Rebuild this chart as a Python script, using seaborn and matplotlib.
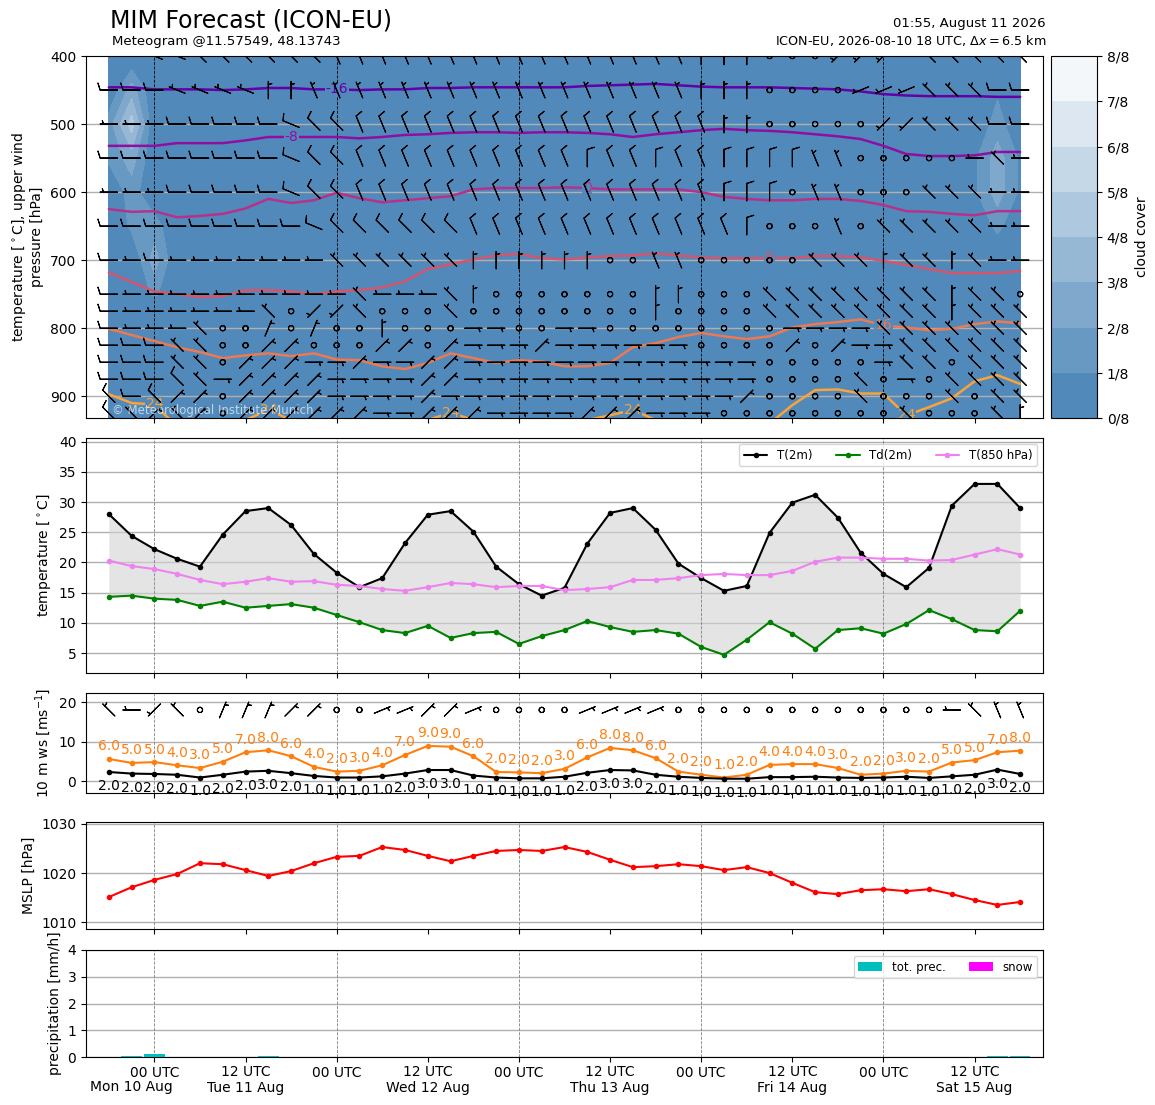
import re
import numpy as np
import matplotlib
matplotlib.use('Agg')
import matplotlib.pyplot as plt
import seaborn as sns

# forecast hours after 2026-08-09 18 UTC, 3-hourly
hours = np.arange(0, 121, 3)

# pressure levels of the upper wind barbs
levels = [400, 450, 500, 550, 600, 650, 700, 750, 775, 800, 825, 850, 875, 900, 925]

# wind barbs: compass direction + speed in kt, C = calm
wind_400 = ('W10 W10 WNW10 WNW10 NW10 NW10 NW10 NW10 NW10 NW10 '
            'NNW10 NNW10 NNW10 NNW10 NNW10 NNW10 NNW10 NNW10 NNW10 NNW10 '
            'NNW10 NNW10 NNW10 NNW10 NNW10 NNW5 N5 N5 N5 C '
            'C C SW5 SW5 SW5 W5 NW10 NW10 NW10 NW10 NW10').split()
wind_450 = ('W10 W10 W10 WNW5 WNW5 WNW5 WNW5 N5 N5 NNW5 '
            'NNW5 NNW5 NNW5 NNW5 NNW5 NNW5 NNW5 NNW5 NNW5 NNW5 '
            'NNW5 NNW5 NNW5 NNW5 NNW5 NNW5 N5 N5 N5 C '
            'C C C WSW5 WSW5 WSW5 NW5 NW5 NW5 W10 W10').split()
wind_500 = ('W5 W5 W5 W10 W10 W10 W10 W10 WNW10 NW10 '
            'NW10 NNW10 NNW10 NNW10 NNW10 NNW10 NNW10 NNW10 NNW10 NNW10 '
            'NNW10 NNW10 NNW10 NNW10 NNW10 NNW10 NNW10 N5 N5 C '
            'C C C C SW5 SW5 NW5 NW5 NW5 W10 W10').split()
wind_550 = ('W10 W10 W10 W10 W10 W10 W10 W10 WNW10 NW10 '
            'NW10 NNW10 NNW10 NNW10 NNW10 NNW10 NNW10 NNW10 NNW10 NNW10 '
            'NNW10 N10 NNW10 NNW10 N10 NNW10 NNW10 N10 N10 N10 '
            'N10 NNW5 NNW5 C C C C C W5 NW5 W5').split()
wind_600 = ('W5 W5 W5 W10 W10 W10 W10 W10 WNW10 NW10 '
            'NW10 NNW10 NNW10 NNW10 NNW10 NNW10 NNW10 NNW10 NNW10 NNW10 '
            'NNW10 NNW10 NNW10 NNW10 NNW10 NNW10 NNW10 N10 N10 N10 '
            'C NNW5 NNW5 C C C NW5 NW5 NW5 W5 W5').split()
wind_650 = ('W10 W10 W10 W10 W10 W10 W10 W10 W10 WNW10 '
            'NW10 NW10 NW10 NW10 NW10 NW10 NNW10 NNW10 NNW10 NNW10 '
            'NNW10 NNW10 NNW10 NNW10 NNW10 NNW10 NNW10 NNW10 N10 C '
            'C C NNW5 C NW5 NW5 NW5 NW5 NW5 W5 W5').split()
wind_700 = ('W10 W5 W10 W5 W5 W5 W5 W5 W5 W5 '
            'NW5 NW5 NW5 NW5 NW5 NW5 N5 N5 N5 N5 '
            'N5 N5 C C NNW5 NNW5 C C C C '
            'C NW5 NW5 NW5 N5 NW5 NW5 N5 NW5 W5 W5').split()
wind_750 = ('W10 W5 W5 W5 W5 W5 W5 W5 W5 W5 '
            'W5 NW5 W5 W5 W5 NW5 N5 C C C '
            'C C C C N5 N5 C C C NW5 '
            'NW5 NW5 NW5 NW5 NW5 NW5 NW5 N5 NW5 NW5 C').split()
wind_775 = ('W10 W5 W5 W5 W5 W5 W5 NW5 C SW5 '
            'SW5 NW5 C C C NW5 C C C C '
            'C C C C N5 C C C C NW5 '
            'NW5 NW5 NW5 NW5 NW5 NW5 NW5 N5 NW5 NW5 NW5').split()
wind_800 = ('W10 W5 W5 W5 NW5 C C NNE5 C NNE5 '
            'C C N5 C C C E5 E5 C C '
            'E5 E5 C C C C C C C C '
            'E5 E5 E5 E5 NW5 NW5 NW5 NW5 NW5 NW5 NW5').split()
wind_825 = ('W10 W10 W10 NW5 NW5 C C NE5 NE5 C '
            'C C NE5 NE5 C NE5 E5 E5 E5 NE5 '
            'E5 E5 E5 E5 E5 E5 C C C C '
            'NE5 C NE5 E5 E5 NW5 NW5 NW5 NW5 NW5 NW5').split()
wind_850 = ('W10 W10 W10 NW5 NW5 C NE5 NE5 NE5 E5 '
            'E5 NE5 E5 E5 NE5 NE5 E5 E5 E5 E5 '
            'E5 E5 E5 E5 E5 E5 E5 E5 E5 C '
            'C C C C E5 NW5 NW5 C NW5 NW5 NW5').split()
wind_875 = ('W10 W10 W10 NW10 NW5 E5 NE5 NE5 NE5 NE5 '
            'E5 E5 E5 E5 NE5 NE5 E5 E5 E5 E5 '
            'E5 E5 E5 E5 E5 E5 E5 E5 E5 C '
            'C C C NW5 C E5 C NW5 NW5 NW5 NW5').split()
wind_900 = ('NW10 W10 NW10 NE5 NE5 C NE5 NE5 NE5 NE5 '
            'E5 E5 E5 E5 NE5 E5 E5 E5 E5 E5 '
            'E5 E5 E5 E5 E5 E5 E5 E5 NE5 C '
            'C C C NW5 C C C NW5 C NW5 NW5').split()
wind_925 = ('NW10 NW5 NE5 NW5 NE5 C NE5 NE5 NE5 NE5 '
            'NE5 NE5 E5 E5 NE5 NE5 NE5 E5 E5 E5 '
            'E5 NE5 NE5 NE5 E5 E5 E5 C C C '
            'C C C C C NW5 C C C NW5 N5').split()
wind_10m = ('NW5 W5 SW5 NW5 C NNE5 NNE5 NNE5 NE5 NE5 '
            'C C ENE5 ENE5 NE5 NE5 ENE5 C C C '
            'C ENE5 ENE5 ENE5 ENE5 C C C C C '
            'C C C C C C C W5 NW5 NNW5 NNW5').split()

# cloud cover (octas): only the non-clear cells
cloud_p = [500, 550, 450, 500, 550, 600, 650, 650, 700, 750,
           550, 600, 450, 500, 550, 600, 650, 550, 600]
cloud_i = [0, 0, 1, 1, 1, 1, 1, 2, 2, 2,
           38, 38, 39, 39, 39, 39, 39, 40, 40]
cloud_v = [1.5, 1.2, 2.5, 4.5, 2.5, 1.5, 1.2, 1.5, 2.5, 1.2,
           0.8, 0.8, 0.8, 1.5, 2.5, 2.5, 1.3, 0.8, 0.8]

# isotherms: pressure [hPa] of each line at every time step
iso_m16 = [446, 446, 449, 449, 449, 450, 449, 447, 447, 449, 449, 450, 449, 449, 447, 447, 446, 446, 446, 446,
           446, 444, 443, 442, 441, 443, 445, 446, 446, 446, 447, 448, 449, 452, 456, 458, 459, 459, 459, 460, 460]
iso_m8 = [532, 532, 532, 528, 528, 528, 524, 519, 519, 519, 519, 521, 519, 516, 515, 513, 512, 512, 513, 512,
          512, 513, 515, 519, 515, 512, 509, 507, 509, 510, 512, 515, 518, 522, 532, 544, 547, 547, 546, 541, 541]
iso_0 = [625, 629, 628, 637, 635, 632, 624, 610, 616, 612, 601, 609, 615, 612, 609, 606, 596, 594, 594, 594,
         593, 594, 596, 596, 596, 596, 600, 607, 610, 612, 612, 610, 610, 613, 619, 628, 629, 632, 634, 628, 628]
iso_8 = [718, 732, 746, 750, 754, 753, 744, 744, 746, 750, 746, 744, 740, 731, 713, 706, 699, 693, 691, 697,
         699, 696, 694, 693, 690, 693, 696, 697, 697, 697, 697, 694, 694, 696, 701, 707, 713, 719, 719, 719, 716]
iso_16 = [801, 810, 819, 828, 835, 844, 840, 837, 841, 837, 846, 847, 856, 860, 851, 837, 844, 851, 847, 849,
          856, 856, 851, 828, 822, 813, 807, 812, 816, 812, 799, 794, 791, 787, 796, 799, 803, 801, 794, 790, 793]
iso_24 = [897, 910, 912, 945, 948, 945, 935, 920, 935, 945, 948, 948, 948, 945, 935, 924, 935, 945, 948, 948,
          945, 935, 928, 920, 935, 945, 948, 945, 948, 940, 913, 891, 890, 896, 896, 928, 916, 903, 878, 869, 882]
iso_temps = [-16, -8, 0, 8, 16, 24]
iso_label_idx = [[10], [8], [21], [29], [34], [2, 7, 15, 23, 35]]

# surface values
t2m = [28.0, 24.4, 22.2, 20.6, 19.3, 24.6, 28.5, 29.0, 26.2, 21.4, 18.3, 15.9, 17.4, 23.2, 27.9, 28.5, 25.1,
       19.3, 16.4, 14.5, 15.8, 23.1, 28.2, 29.0, 25.4, 19.8, 17.4, 15.3, 16.1, 24.9, 29.9, 31.2, 27.4, 21.6,
       18.1, 15.9, 19.1, 29.4, 33.0, 33.0, 29.0]
td2m = [14.3, 14.5, 14.0, 13.8, 12.8, 13.5, 12.5, 12.8, 13.1, 12.5, 11.3, 10.1, 8.8, 8.3, 9.5, 7.5, 8.3, 8.5,
        6.5, 7.8, 8.8, 10.3, 9.3, 8.5, 8.8, 8.2, 6.0, 4.7, 7.2, 10.1, 8.2, 5.7, 8.8, 9.1, 8.2, 9.8, 12.1, 10.6,
        8.8, 8.6, 12.0]
t850 = [20.3, 19.4, 18.9, 18.1, 17.1, 16.4, 16.8, 17.4, 16.8, 16.9, 16.3, 16.1, 15.6, 15.3, 15.9, 16.6, 16.4,
        15.9, 16.1, 16.1, 15.4, 15.6, 15.9, 17.1, 17.1, 17.4, 17.9, 18.1, 17.9, 17.9, 18.6, 20.1, 20.8, 20.8,
        20.6, 20.6, 20.3, 20.4, 21.3, 22.2, 21.3]
ws10 = [2.3, 1.9, 1.8, 1.6, 0.9, 1.6, 2.4, 2.6, 2.0, 1.3, 0.9, 0.9, 1.2, 1.9, 2.8, 2.8, 1.4, 0.9, 0.7, 0.7,
        1.1, 2.1, 2.8, 2.7, 1.6, 1.1, 0.8, 0.6, 0.6, 1.0, 1.0, 1.1, 0.9, 0.8, 0.9, 1.1, 0.8, 1.2, 1.6, 2.9, 1.8]
gust = [5.6, 4.6, 4.8, 4.0, 3.3, 4.9, 7.3, 7.8, 6.3, 3.6, 2.4, 2.6, 4.0, 6.6, 8.9, 8.7, 6.3, 2.3, 2.2, 2.0,
        3.1, 6.0, 8.4, 7.8, 5.8, 2.4, 1.6, 0.9, 1.6, 4.1, 4.3, 4.3, 3.3, 1.6, 1.9, 2.6, 2.4, 4.7, 5.3, 7.3, 7.7]
mslp = [1015.1, 1017.1, 1018.6, 1019.8, 1022.0, 1021.8, 1020.6, 1019.4, 1020.4, 1022.0, 1023.3, 1023.5,
        1025.3, 1024.7, 1023.5, 1022.4, 1023.5, 1024.5, 1024.7, 1024.5, 1025.3, 1024.3, 1022.7, 1021.2,
        1021.4, 1021.8, 1021.4, 1020.6, 1021.2, 1020.0, 1018.0, 1016.1, 1015.7, 1016.5, 1016.7, 1016.3,
        1016.7, 1015.7, 1014.5, 1013.5, 1014.1]
precip = [0, 0.04, 0.12, 0, 0, 0, 0, 0.04, 0, 0, 0, 0, 0, 0, 0, 0, 0, 0, 0, 0,
          0, 0, 0, 0, 0, 0, 0, 0, 0, 0, 0, 0, 0, 0, 0, 0, 0, 0, 0, 0.04, 0.04]
snow = [0] * 41

major_ticks = [18, 42, 66, 90, 114]
major_labels = ['12 UTC\nTue 11 Aug', '12 UTC\nWed 12 Aug', '12 UTC\nThu 13 Aug',
                '12 UTC\nFri 14 Aug', '12 UTC\nSat 15 Aug']
minor_ticks = [6, 30, 54, 78, 102]

compass = {'N': 0, 'NNE': 22.5, 'NE': 45, 'ENE': 67.5, 'E': 90, 'ESE': 112.5, 'SE': 135, 'SSE': 157.5,
           'S': 180, 'SSW': 202.5, 'SW': 225, 'WSW': 247.5, 'W': 270, 'WNW': 292.5, 'NW': 315, 'NNW': 337.5}


def to_uv(tokens):
    u, v = [], []
    for tok in tokens:
        name, spd = re.match(r'([A-Z]+)(\d*)', tok).groups()
        if name == 'C':
            u.append(0.0)
            v.append(0.0)
            continue
        d = np.deg2rad(compass[name])
        s = float(spd)
        u.append(-s * np.sin(d))
        v.append(-s * np.cos(d))
    return np.array(u), np.array(v)


sns.set_style('ticks', {'axes.edgecolor': 'black', 'xtick.color': 'black', 'ytick.color': 'black',
                        'text.color': 'black', 'axes.labelcolor': 'black'})
plt.rcParams['font.family'] = ['DejaVu Sans']

fig = plt.figure(figsize=(11.55, 11.05), dpi=100)
L, W = 0.0745, 0.8285
ax_top = fig.add_axes([L, 0.6217, W, 0.3276])
ax_t = fig.add_axes([L, 0.391, W, 0.2126])
ax_w = fig.add_axes([L, 0.2824, W, 0.0905])
ax_p = fig.add_axes([L, 0.1593, W, 0.0968])
ax_r = fig.add_axes([L, 0.0434, W, 0.0969])
cax = fig.add_axes([0.91, 0.6217, 0.0398, 0.3276])
axes = [ax_top, ax_t, ax_w, ax_p, ax_r]

# ---- upper panel: clouds, isotherms, wind
cloud_colors = sns.blend_palette(['#5089ba', '#f4f7fa'], 8)
cloud_lev = levels + [950]
cc = np.zeros((len(cloud_lev), len(hours)))
for p, i, val in zip(cloud_p, cloud_i, cloud_v):
    cc[cloud_lev.index(p), i] = val
cf = ax_top.contourf(hours, cloud_lev, cc, levels=np.arange(9), colors=cloud_colors, zorder=1)

for p in [500, 600, 700, 800, 900]:
    ax_top.axhline(p, color='#b0b0b0', lw=1, zorder=2)

norm = plt.Normalize(-28, 38)
isos = [iso_m16, iso_m8, iso_0, iso_8, iso_16, iso_24]
for temp, line, lab in zip(iso_temps, isos, iso_label_idx):
    col = plt.cm.plasma(norm(temp))
    ax_top.plot(hours, line, color=col, lw=1.8, zorder=3)
    for i in lab:
        ax_top.text(hours[i], line[i], f'{temp}', color=col, fontsize=10, ha='center', va='center',
                    bbox=dict(fc=cloud_colors[0], ec='none', pad=0.5), zorder=3.5, clip_on=True)

wind_rows = [wind_400, wind_450, wind_500, wind_550, wind_600, wind_650, wind_700, wind_750,
             wind_775, wind_800, wind_825, wind_850, wind_875, wind_900, wind_925]
for p, row in zip(levels, wind_rows):
    u, v = to_uv(row)
    ax_top.barbs(hours, np.full(len(hours), p), u, v, length=5, pivot='middle', lw=0.8, zorder=4)

ax_top.set_ylim(932, 400)
ax_top.set_yticks([400, 500, 600, 700, 800, 900])
ax_top.set_ylabel('temperature [$^\\circ$C], upper wind\npressure [hPa]')
ax_top.text(0.027, 0.012, '\u00a9 Meteorological Institute Munich', transform=ax_top.transAxes,
            color='white', alpha=0.65, fontsize=8.5, zorder=5)

cb = fig.colorbar(cf, cax=cax)
cb.set_ticks(range(9))
cb.set_ticklabels([f'{i}/8' for i in range(9)])
cb.set_label('cloud cover')

# ---- 2 m temperature
ax_t.fill_between(hours, td2m, t2m, color='lightgray', alpha=0.6, lw=0, zorder=1)
sns.lineplot(x=hours, y=t2m, ax=ax_t, color='black', marker='o', markersize=4, markeredgewidth=0,
             lw=1.5, label='T(2m)', zorder=3)
sns.lineplot(x=hours, y=td2m, ax=ax_t, color='green', marker='o', markersize=4, markeredgewidth=0,
             lw=1.5, label='Td(2m)', zorder=3)
sns.lineplot(x=hours, y=t850, ax=ax_t, color='violet', marker='o', markersize=4, markeredgewidth=0,
             lw=1.5, label='T(850 hPa)', zorder=3)
ax_t.set_ylim(1.7, 40.6)
ax_t.set_yticks(range(5, 41, 5))
ax_t.set_ylabel('temperature [$^\\circ$C]')
ax_t.legend(loc='upper right', ncol=3, fontsize=8.5, frameon=True, edgecolor='0.8', fancybox=True)

# ---- 10 m wind
sns.lineplot(x=hours, y=gust, ax=ax_w, color='tab:orange', marker='o', markersize=4, markeredgewidth=0,
             lw=1.5, zorder=3)
sns.lineplot(x=hours, y=ws10, ax=ax_w, color='black', marker='o', markersize=4, markeredgewidth=0,
             lw=1.5, zorder=3)
for h, g, s in zip(hours, gust, ws10):
    ax_w.annotate(f'{np.round(g):.1f}', (h, g), xytext=(0, 4), textcoords='offset points',
                  ha='center', va='bottom', color='tab:orange', fontsize=10)
    ax_w.annotate(f'{np.round(s):.1f}', (h, s), xytext=(0, -5), textcoords='offset points',
                  ha='center', va='top', color='black', fontsize=10)
u10, v10 = to_uv(wind_10m)
ax_w.barbs(hours, np.full(len(hours), 18.0), u10, v10, length=5, pivot='middle', lw=0.8, zorder=4)
ax_w.set_ylim(-3, 22.3)
ax_w.set_yticks([0, 10, 20])
ax_w.set_ylabel('10 m ws [ms$^{-1}$]')

# ---- mean sea level pressure
sns.lineplot(x=hours, y=mslp, ax=ax_p, color='red', marker='o', markersize=4, markeredgewidth=0,
             lw=1.5, zorder=3)
ax_p.set_ylim(1008.6, 1030.4)
ax_p.set_yticks([1010, 1020, 1030])
ax_p.set_ylabel('MSLP [hPa]')

# ---- precipitation
ax_r.bar(hours, precip, width=2.7, color='c', lw=0, label='tot. prec.', zorder=3)
ax_r.bar(hours, snow, width=2.7, color='magenta', lw=0, label='snow', zorder=3)
ax_r.set_ylim(0, 4)
ax_r.set_yticks(range(5))
ax_r.set_ylabel('precipitation [mm/h]')
ax_r.legend(loc='upper right', ncol=2, fontsize=8.5, frameon=True, edgecolor='0.8', fancybox=True)

# ---- shared time axis, grids
for ax in axes:
    ax.set_xlim(-3, 123)
    ax.set_xticks(major_ticks)
    ax.set_xticks(minor_ticks, minor=True)
    ax.tick_params(axis='x', which='both', length=3.5, width=0.8)
    if ax is not ax_r:
        ax.tick_params(axis='x', which='both', labelbottom=False)
    if ax is ax_top:
        for h in minor_ticks:
            ax.axvline(h, color='black', ls='--', lw=0.6, zorder=2)
    else:
        ax.set_axisbelow(True)
        ax.grid(axis='y', color='#b0b0b0', lw=1)
        for h in minor_ticks:
            ax.axvline(h, color='gray', ls='--', lw=0.6, zorder=1)

ax_r.set_xticklabels(major_labels)
ax_r.set_xticklabels(['00 UTC'] * len(minor_ticks), minor=True)
ax_r.tick_params(axis='x', which='major', pad=2.1)
ax_r.tick_params(axis='x', which='minor', pad=2.6)
ax_r.annotate('Mon 10 Aug', xy=(3, 0), xycoords=('data', 'axes fraction'), xytext=(0, -21.5),
              textcoords='offset points', ha='center', va='center', fontsize=10)

fig.text(0.095, 0.981, 'MIM Forecast (ICON-EU)', fontsize=17, ha='left', va='center')
fig.text(0.097, 0.962, 'Meteogram @11.57549, 48.13743', fontsize=9.5, ha='left', va='center')
fig.text(0.905, 0.979, '01:55, August 11 2026', fontsize=9.5, ha='right', va='center')
fig.text(0.906, 0.963, 'ICON-EU, 2026-08-10 18 UTC, $\\Delta x = 6.5$ km', fontsize=9.2,
         ha='right', va='center')

fig.savefig('out.png', dpi=100)
